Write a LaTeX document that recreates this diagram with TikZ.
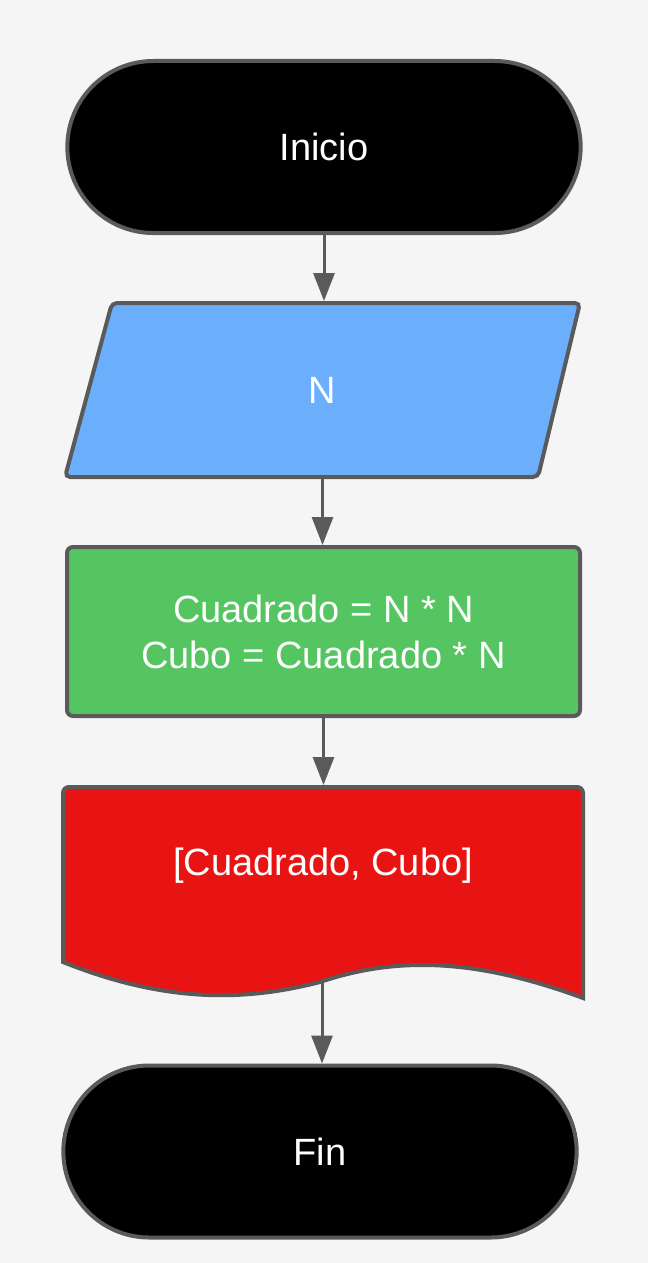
\documentclass[tikz,border=0pt]{standalone}
\usepackage{fontspec}
\setmainfont{Liberation Sans}
\usetikzlibrary{shapes.misc,arrows.meta}
\definecolor{fondo}{HTML}{F5F5F5}
\definecolor{borde}{HTML}{5A5A5A}
\definecolor{azul}{HTML}{6AAEFC}
\definecolor{verde}{HTML}{55C562}
\definecolor{rojo}{HTML}{E81414}
\begin{document}
\begin{tikzpicture}
  [x=1pt,y=-1pt,%
    every node/.style={draw=borde,line width=4pt,text=white,align=center,font=\fontsize{38}{46}\selectfont},
    terminal/.style={rounded rectangle,fill=black,minimum width=520pt,minimum height=172pt},
    proceso/.style={rectangle,rounded corners=6pt,fill=verde,minimum width=513pt,minimum height=169pt},
    contorno/.style={draw=borde,line width=4pt},
    flecha/.style={-{Triangle[length=28pt,width=21pt]},draw=borde,line width=3pt}]
  \fill[fondo] (0,0) rectangle (648,1263);
  \useasboundingbox (0,0) rectangle (648,1263);
  \node[terminal] (inicio) at (324,147) {Inicio};
  % entrada
  \draw[contorno,fill=azul,rounded corners=5pt] (112,303) -- (580,303) -- (538,477) -- (65,477) -- cycle;
  \node[draw=none,minimum height=174pt] (n) at (322.5,390) {N};
  \node[proceso] (calculo) at (323.5,631.5) {Cuadrado = N * N\\Cubo = Cuadrado * N};
  % documento
  \draw[contorno,fill=rojo] (63,962) [rounded corners=6pt] -- (63,787) -- (583,787)
    [sharp corners] -- (583,998) .. controls (480,960) and (400,955) .. (320,982)
    .. controls (250,1000) and (170,1005) .. (63,962) -- cycle;
  \node[draw=none] (salida) at (323,866) {[Cuadrado, Cubo]};
  \coordinate (docarriba) at (322,785);
  \coordinate (onda) at (322,980);
  \node[terminal] (fin) at (320,1151.5) {Fin};
  \draw[flecha] (inicio.south) -- (inicio.south |- n.north);
  \draw[flecha] (n.south) -- (n.south |- calculo.north);
  \draw[flecha] (calculo.south) -- (calculo.south |- docarriba);
  \draw[flecha] (onda) -- (onda |- fin.north);
\end{tikzpicture}
\end{document}
